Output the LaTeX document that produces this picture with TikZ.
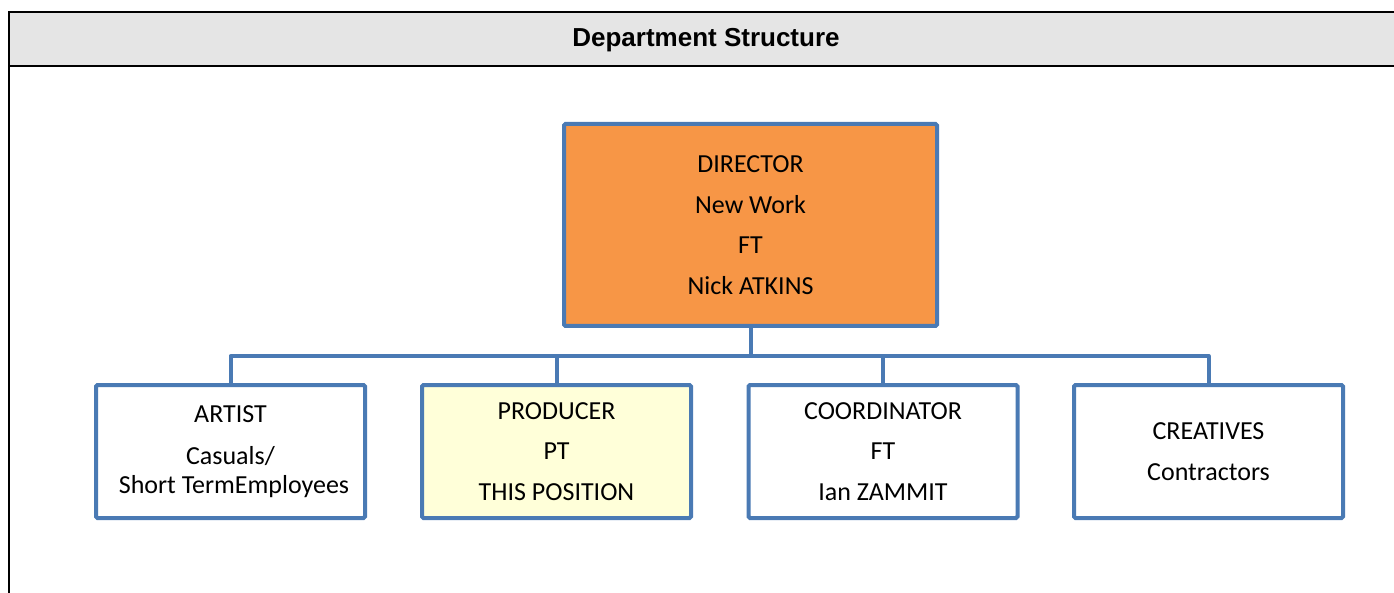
\documentclass[tikz,border=0pt]{standalone}
\usepackage{fontspec}
\setmainfont{Carlito}
\newfontfamily\headfont{Liberation Sans}
\definecolor{boxblue}{RGB}{74,122,180}
\definecolor{dirorange}{RGB}{247,150,70}
\definecolor{posyellow}{RGB}{255,255,217}
\definecolor{headgray}{RGB}{229,229,229}
\begin{document}
\begin{tikzpicture}[x=1pt, y=-1pt,
        font=\fontsize{26}{40.5}\selectfont,
        role/.style={draw=boxblue, line width=4pt, rounded corners=1.5pt, fill=white,
            inner sep=0pt, align=center, minimum width=269pt, minimum height=133pt},
        link/.style={draw=boxblue, line width=4pt, line join=round}]
            \useasboundingbox (0, 0) rectangle (1394, 593);
            % Table header
            \fill[headgray] (9, 12) rectangle (1394, 66);
            \draw[line width=2pt] (1394, 12) -- (9, 12) -- (9, 593);
            \draw[line width=2pt] (9, 66) -- (1394, 66);
            \node[font=\headfont\bfseries\fontsize{26}{30}\selectfont] (title) at (706, 40) {Department Structure};

            % Director
            \node[role, fill=dirorange, minimum width=373pt, minimum height=202pt] (dir) at (750.5, 225)
                {DIRECTOR\\New Work\\FT\\Nick ATKINS};

            % Staff row
            \node[role] (artist) at (230.5, 451.5)
                {ARTIST\\[1.5pt]Casuals/\\[-11.5pt]\hspace*{7pt}Short TermEmployees};
            \node[role, fill=posyellow] (producer) at (556.5, 451.5) {PRODUCER\\PT\\THIS POSITION};
            \node[role] (coord) at (883, 451.5) {COORDINATOR\\FT\\Ian ZAMMIT};
            \node[role] (creatives) at (1208.5, 451.5) {CREATIVES\\Contractors};

            % Connectors
            \foreach \n in {artist, producer, coord, creatives}
                \draw[link] (dir.south) -- ++(0, 28) -| (\n.north);
        \end{tikzpicture}
\end{document}
